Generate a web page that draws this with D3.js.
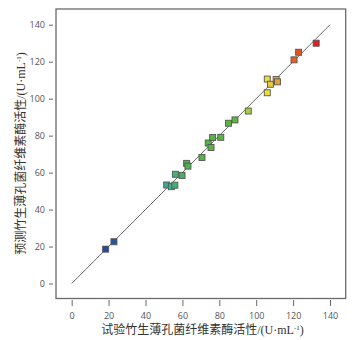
<!DOCTYPE html>
<html>
<head>
<meta charset="utf-8">
<script src="https://cdn.jsdelivr.net/npm/d3@7"></script>
<style>
  body { margin: 0; background: #fff; }
  svg { display: block; }
</style>
</head>
<body>
<div id="container"></div>
<script>
/* DATA */
const actual    = [18.4, 22.9, 51.5, 54, 55.9, 56.2, 59.8, 62.3, 63, 70.6, 74, 75.5, 76.4, 80.8, 85, 88.5, 95.7, 106, 106, 107.7, 110.8, 111.5, 120.5, 123, 132.5];
const predicted = [18.6, 22.6, 53.3, 52.4, 53.2, 59.1, 58.5, 65, 63.5, 68.2, 76, 73.6, 79, 79.1, 86.7, 88.5, 93.3, 103.2, 110.6, 107.8, 110.4, 109.1, 121, 125.1, 130];
const ticks = [0, 20, 40, 60, 80, 100, 120, 140];
const colorStops = [18, 53, 62, 90, 96, 106, 111, 121, 132];
const colorList = ["#2546a0", "#3fae8a", "#4db34a", "#5cb83c", "#a8d040", "#ecdc3c", "#e8a432", "#e65c22", "#e42020"];

const width = 357;
const height = 340;

const svg = d3.select("#container").append("svg")
  .attr("width", width)
  .attr("height", height)

/* SCALES */
const xScale = d3.scaleLinear().domain([-8.5, 148.5]).range([56, 345.7])
const yScale = d3.scaleLinear().domain([-8.1, 148.5]).range([298.5, 9])
const colorScale = d3.scaleLinear().domain(colorStops).range(colorList)

// frame
svg.append("rect")
  .attr("x", 56).attr("y", 9)
  .attr("width", 289.7).attr("height", 289.5)
  .attr("fill", "none")
  .attr("stroke", "#6a6a6a")
  .attr("stroke-width", 1.3)

/* AXES */
const xAxis = d3.axisBottom(xScale).tickValues(ticks).tickSize(6).tickPadding(6.5)
const yAxis = d3.axisLeft(yScale).tickValues(ticks).tickSize(4).tickPadding(4)

const gx = svg.append("g")
  .attr("transform", "translate(0,300)")
  .call(xAxis)
const gy = svg.append("g")
  .attr("transform", "translate(53,0)")
  .call(yAxis)

for (const g of [gx, gy]) {
  g.select(".domain").remove()
  g.selectAll("line").attr("stroke", "#666")
  g.selectAll("text")
    .attr("fill", "#555")
    .style("font-family", "'Open Sans', 'Noto Sans', sans-serif")
    .style("font-size", "9px")
}

// 1:1 line
svg.append("line")
  .attr("x1", xScale(0)).attr("y1", yScale(0))
  .attr("x2", xScale(140)).attr("y2", yScale(140))
  .attr("stroke", "#444")
  .attr("stroke-width", 0.8)

/* POINTS */
const pts = actual.map((a, i) => ({ a: a, p: predicted[i] }))
const s = 6
svg.selectAll("rect.pt")
  .data(pts)
  .join("rect")
  .attr("class", "pt")
  .attr("x", d => xScale(d.a) - s / 2)
  .attr("y", d => yScale(d.p) - s / 2)
  .attr("width", s)
  .attr("height", s)
  .attr("fill", d => colorScale(d.a))
  .attr("stroke", "#555")
  .attr("stroke-width", 0.9)

/* TITLES */
const titleFont = "'Liberation Serif', 'Noto Sans CJK SC', serif"

const xt = svg.append("text")
  .attr("x", 202.5).attr("y", 334)
  .attr("text-anchor", "middle")
  .attr("fill", "#333")
  .style("font-family", titleFont)
  .style("font-size", "12px")
xt.append("tspan").text("试验竹生薄孔菌纤维素酶活性/(U·mL")
xt.append("tspan").attr("dy", -4.5).style("font-size", "7px").text("-1")
xt.append("tspan").attr("dy", 4.5).text(")")

const yt = svg.append("text")
  .attr("transform", "translate(25,153.5) rotate(-90)")
  .attr("text-anchor", "middle")
  .attr("fill", "#333")
  .style("font-family", titleFont)
  .style("font-size", "12px")
yt.append("tspan").text("预测竹生薄孔菌纤维素酶活性/(U·mL")
yt.append("tspan").attr("dy", -4.5).style("font-size", "7px").text("-1")
yt.append("tspan").attr("dy", 4.5).text(")")
</script>
</body>
</html>
